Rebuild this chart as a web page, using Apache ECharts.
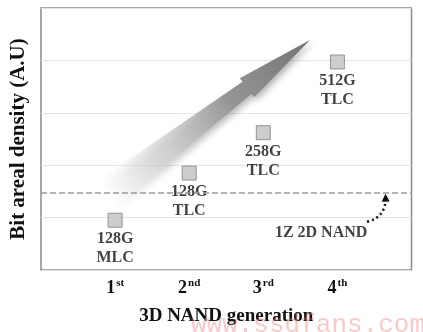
<!DOCTYPE html>
<html>
<head>
<meta charset="utf-8">
<script src="https://cdn.jsdelivr.net/npm/echarts@6/dist/echarts.min.js"></script>
<style>html,body{margin:0;padding:0;background:#fff}#c{width:423px;height:332px}</style>
</head>
<body>
<div id="c"></div>
<script>
// ---- data ----
var generations = [1, 2, 3, 4];
var genDigits = ['1', '2', '3', '4'];
var genSuffix = ['st', 'nd', 'rd', 'th'];
var density = [0.95, 1.85, 2.62, 3.97];
var capacities = ['128G', '128G', '258G', '512G'];
var cellTypes = ['MLC', 'TLC', 'TLC', 'TLC'];
var planar2DLevel = 1.47;
var planarLabel = '1Z 2D NAND';
var planarLabelPos = [3.78, 0.71];
var planarArrow = [[4.40, 0.92], [4.65, 1.38]];
var trendArrow = [0.875, 1.43, 3.63, 4.39]; // tail x,y  tip x,y
var yTicks = [0, 1, 2, 3, 4, 5];

var FONT = "'Liberation Serif','Times New Roman',serif";
var chart = echarts.init(document.getElementById('c'), null, {renderer: 'canvas'});

var pts = generations.map(function (g, i) { return [g, density[i]]; });

var option = {
  animation: false,
  backgroundColor: '#fff',
  grid: {left: 40, right: 11.5, top: 8, bottom: 62, show: true, borderColor: '#8a8a8a', borderWidth: 1.5, backgroundColor: 'transparent'},
  xAxis: {
    type: 'value', min: 0, max: 5, interval: 1,
    name: '3D NAND generation', nameLocation: 'middle', nameGap: 37,
    nameTextStyle: {fontFamily: FONT, fontWeight: 'bold', fontSize: 19, color: '#111'},
    axisLine: {show: false}, axisTick: {show: false}, splitLine: {show: false},
    axisLabel: {
      margin: 8,
      formatter: function (v) {
        var i = generations.indexOf(v);
        if (i < 0) return '';
        return '{d|' + genDigits[i] + '}{s|' + genSuffix[i] + '}';
      },
      rich: {
        d: {fontFamily: FONT, fontWeight: 'bold', fontSize: 18, color: '#111'},
        s: {fontFamily: FONT, fontWeight: 'bold', fontSize: 11, color: '#111', verticalAlign: 'top', padding: [0, 0, 9, 1]}
      }
    }
  },
  yAxis: {
    type: 'value', min: yTicks[0], max: yTicks[yTicks.length - 1], interval: 1,
    name: 'Bit areal density (A.U)', nameLocation: 'middle', nameGap: 12,
    nameTextStyle: {fontFamily: FONT, fontWeight: 'bold', fontSize: 21, color: '#111'},
    axisLine: {show: false}, axisTick: {show: false}, axisLabel: {show: false},
    splitLine: {show: true, lineStyle: {color: '#e4e4e4', width: 1}}
  },
  series: [
    {
      type: 'custom',
      coordinateSystem: 'cartesian2d',
      silent: true,
      z: 1,
      data: [trendArrow],
      renderItem: function (params, api) {
        var t = api.coord([api.value(0), api.value(1)]);
        var p = api.coord([api.value(2), api.value(3)]);
        var dx = p[0] - t[0], dy = p[1] - t[1];
        var L = Math.sqrt(dx * dx + dy * dy);
        var ux = dx / L, uy = dy / L, nx = -uy, ny = ux;
        var headLen = 79, headHalf = 12, shaftHead = 7.5, shaftTail = 16;
        var bx = p[0] - ux * headLen, by = p[1] - uy * headLen;
        var poly = [
          [t[0] + nx * shaftTail, t[1] + ny * shaftTail],
          [bx + nx * shaftHead, by + ny * shaftHead],
          [bx + nx * headHalf, by + ny * headHalf],
          [p[0], p[1]],
          [bx - nx * headHalf, by - ny * headHalf],
          [bx - nx * shaftHead, by - ny * shaftHead],
          [t[0] - nx * shaftTail, t[1] - ny * shaftTail]
        ];
        return {
          type: 'polygon',
          shape: {points: poly},
          style: {
            fill: new echarts.graphic.LinearGradient(t[0], t[1], p[0], p[1], [
              {offset: 0, color: 'rgba(255,255,255,0)'},
              {offset: 0.25, color: 'rgba(215,215,215,0.6)'},
              {offset: 0.6, color: 'rgba(150,150,150,1)'},
              {offset: 1, color: 'rgba(115,115,115,1)'}
            ], true),
            shadowColor: 'rgba(0,0,0,0.28)', shadowBlur: 6, shadowOffsetX: 3, shadowOffsetY: 3
          }
        };
      }
    },
    {
      type: 'scatter',
      z: 3,
      symbol: 'rect',
      symbolSize: 14,
      itemStyle: {color: '#c0c0c0', borderColor: '#7f7f7f', borderWidth: 1},
      data: pts,
      label: {
        show: true, position: 'bottom', distance: 2,
        formatter: function (p) { return capacities[p.dataIndex] + '\n' + cellTypes[p.dataIndex]; },
        fontFamily: FONT, fontWeight: 'bold', fontSize: 16, lineHeight: 19, color: '#111'
      },
      markLine: {
        silent: true, symbol: 'none', label: {show: false},
        lineStyle: {color: '#9a9a9a', type: [6, 3], width: 1.6},
        data: [{yAxis: planar2DLevel}]
      }
    },
    {
      type: 'scatter',
      z: 3,
      symbolSize: 0,
      silent: true,
      data: [planarLabelPos],
      label: {
        show: true, position: 'inside',
        formatter: planarLabel,
        fontFamily: FONT, fontWeight: 'bold', fontSize: 16, color: '#111'
      }
    },
    {
      type: 'lines',
      coordinateSystem: 'cartesian2d',
      z: 3,
      silent: true,
      symbol: ['none', 'triangle'],
      symbolSize: 8,
      lineStyle: {color: '#111', width: 2.5, type: [2, 3], curveness: -0.4, opacity: 1},
      data: [{coords: planarArrow}]
    }
  ],
  graphic: [
    {
      type: 'text', right: -2, bottom: -6, z: 100, silent: true,
      style: {text: 'www.ssdfans.com', fontFamily: "'Liberation Mono','DejaVu Sans Mono',monospace", fontSize: 26, fill: 'rgba(235,120,120,0.4)'}
    }
  ]
};
chart.setOption(option);
</script>
</body>
</html>
